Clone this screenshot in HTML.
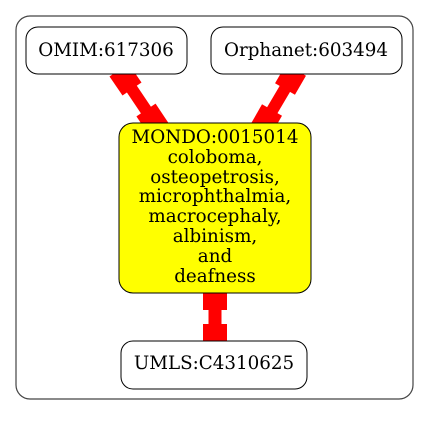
<!DOCTYPE html>
<html><head><meta charset="utf-8"><style>
body{margin:0;background:#fff}
text{font-family:"DejaVu Serif",serif;font-size:18.3px;text-anchor:middle}
</style></head><body>
<svg width="429" height="416" viewBox="0 0 429 416">
<rect x="16" y="16" width="397" height="383" rx="14" fill="none" stroke="#444" stroke-width="1.2"/>
<g stroke="#f00">
<line x1="119" y1="70" x2="160" y2="131" stroke-width="12"/>
<line x1="119" y1="70" x2="132" y2="89" stroke-width="23"/>
<line x1="146" y1="110" x2="160" y2="131" stroke-width="23"/>
</g>
<g stroke="#f00">
<line x1="296" y1="70" x2="260" y2="131" stroke-width="12"/>
<line x1="296" y1="70" x2="285" y2="89" stroke-width="23"/>
<line x1="272" y1="110" x2="260" y2="131" stroke-width="23"/>
</g>
<g stroke="#f00">
<line x1="215" y1="287" x2="215" y2="347" stroke-width="13"/>
<line x1="215" y1="287" x2="215" y2="310" stroke-width="24"/>
<line x1="215" y1="324" x2="215" y2="347" stroke-width="24"/>
</g>
<g>
<rect x="26" y="27" width="161" height="47" rx="12" fill="#fff" stroke="#000"/>
<text x="106" y="56">OMIM:617306</text></g>
<g>
<rect x="211" y="27" width="191" height="47" rx="12" fill="#fff" stroke="#000"/>
<text x="306" y="56">Orphanet:603494</text></g>
<g>
<rect x="119" y="123" width="192" height="170" rx="14" fill="#ff0" stroke="#000"/>
<text x="215" y="143">MONDO:0015014</text>
<text x="215" y="163">coloboma,</text>
<text x="215" y="183">osteopetrosis,</text>
<text x="215" y="202">microphthalmia,</text>
<text x="215" y="222">macrocephaly,</text>
<text x="215" y="242">albinism,</text>
<text x="215" y="262">and</text>
<text x="215" y="282">deafness</text></g>
<g>
<rect x="121" y="341" width="186" height="48" rx="12" fill="#fff" stroke="#000"/>
<text x="214" y="369">UMLS:C4310625</text></g>
</svg>
</body></html>
